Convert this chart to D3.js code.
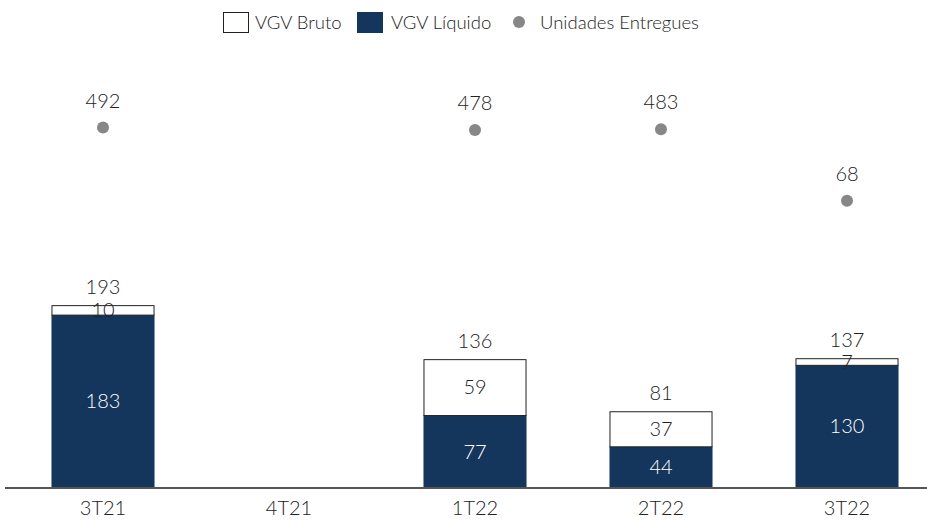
<!DOCTYPE html>
<html>
<head>
<meta charset="utf-8">
<script src="https://cdn.jsdelivr.net/npm/d3@7"></script>
<style>
  body { margin: 0; background: #fff; }
  text { font-family: Lato, "Open Sans", sans-serif; font-weight: 300; fill: #222; }
</style>
</head>
<body>
<div id="chart"></div>
<script>
//data
var categories = ["3T21", "4T21", "1T22", "2T22", "3T22"];
var vgvBruto = [193, 0, 136, 81, 137];
var vgvLiquido = [183, 0, 77, 44, 130];
var unidades = [492, null, 478, 483, 68];

var width = 927, height = 522;
var navy = "#14365c", dotGray = "#878787";

var svg = d3.select("#chart").append("svg")
    .attr("width", width)
    .attr("height", height);

//scales
var x = d3.scaleBand().domain(categories).range([10, 940]).paddingInner(0.446).paddingOuter(0.223);
var y = d3.scaleLinear().domain([0, 400]).range([488, 109]);
var y2 = d3.scaleLinear().domain([-1600, 600]).range([488, 109]);

var rows = categories.map(function(c, i) {
    return {cat: c, bruto: vgvBruto[i], liq: vgvLiquido[i], diff: vgvBruto[i] - vgvLiquido[i], un: unidades[i]};
}).filter(function(d) { return d.bruto > 0; });

//net bars
svg.selectAll("rect.liq")
    .data(rows)
    .enter().append("rect")
    .attr("class", "liq")
    .attr("x", function(d) { return x(d.cat); })
    .attr("width", x.bandwidth())
    .attr("y", function(d) { return y(d.liq); })
    .attr("height", function(d) { return y(0) - y(d.liq); })
    .attr("fill", navy);

//gross remainder
svg.selectAll("rect.diff")
    .data(rows)
    .enter().append("rect")
    .attr("class", "diff")
    .attr("x", function(d) { return x(d.cat) + 0.5; })
    .attr("width", x.bandwidth() - 1)
    .attr("y", function(d) { return y(d.bruto) + 0.5; })
    .attr("height", function(d) { return y(d.liq) - y(d.bruto); })
    .attr("fill", "#fff")
    .attr("stroke", "#222")
    .attr("stroke-width", 1);

//labels inside
svg.selectAll("text.liq")
    .data(rows)
    .enter().append("text")
    .attr("x", function(d) { return x(d.cat) + x.bandwidth() / 2; })
    .attr("y", function(d) { return (y(0) + y(d.liq)) / 2 + 7; })
    .attr("text-anchor", "middle")
    .style("font-size", "20px")
    .style("fill", "#fff")
    .text(function(d) { return d.liq; });

svg.selectAll("text.diff")
    .data(rows)
    .enter().append("text")
    .attr("x", function(d) { return x(d.cat) + x.bandwidth() / 2; })
    .attr("y", function(d) { return (y(d.liq) + y(d.bruto)) / 2 + 7; })
    .attr("text-anchor", "middle")
    .style("font-size", "20px")
    .text(function(d) { return d.diff; });

svg.selectAll("text.total")
    .data(rows)
    .enter().append("text")
    .attr("x", function(d) { return x(d.cat) + x.bandwidth() / 2; })
    .attr("y", function(d) { return y(d.bruto) - 11; })
    .attr("text-anchor", "middle")
    .style("font-size", "20px")
    .text(function(d) { return d.bruto; });

//units delivered
var pts = rows.filter(function(d) { return d.un != null; });
svg.selectAll("circle.un")
    .data(pts)
    .enter().append("circle")
    .attr("cx", function(d) { return x(d.cat) + x.bandwidth() / 2; })
    .attr("cy", function(d) { return y2(d.un); })
    .attr("r", 6)
    .attr("fill", dotGray);

svg.selectAll("text.un")
    .data(pts)
    .enter().append("text")
    .attr("x", function(d) { return x(d.cat) + x.bandwidth() / 2; })
    .attr("y", function(d) { return y2(d.un) - 20; })
    .attr("text-anchor", "middle")
    .style("font-size", "20px")
    .text(function(d) { return d.un; });

//axis
var axis = svg.append("g")
    .attr("transform", "translate(0," + y(0) + ")")
    .call(d3.axisBottom(x).tickSize(0).tickPadding(13));
axis.select(".domain").attr("d", "M5,0H927").attr("stroke", "#555").attr("stroke-width", 2);
axis.selectAll("text").style("font-size", "20px").style("font-family", "Lato, sans-serif").style("font-weight", 300).attr("fill", "#222");

//legend
var lg = svg.append("g").attr("transform", "translate(0,22)");
lg.append("rect").attr("x", 223.5).attr("y", -9.5).attr("width", 25).attr("height", 20).attr("fill", "#fff").attr("stroke", "#222");
lg.append("text").attr("x", 255).attr("y", 7).style("font-size", "18.5px").text("VGV Bruto");
lg.append("rect").attr("x", 357).attr("y", -10).attr("width", 26).attr("height", 21).attr("fill", navy);
lg.append("text").attr("x", 391).attr("y", 7).style("font-size", "18.5px").text("VGV Líquido");
lg.append("circle").attr("cx", 519).attr("cy", 0).attr("r", 6).attr("fill", dotGray);
lg.append("text").attr("x", 540).attr("y", 7).style("font-size", "18.5px").text("Unidades Entregues");
</script>
</body>
</html>
